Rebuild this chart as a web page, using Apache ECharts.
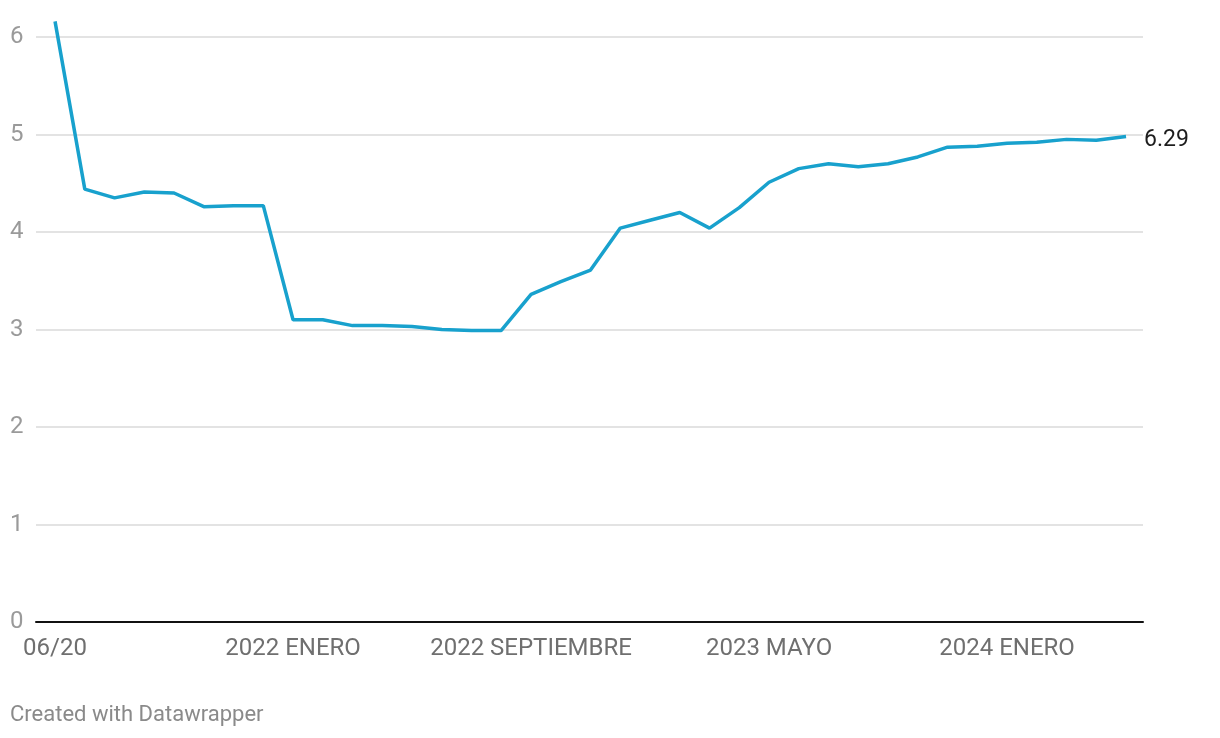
<!DOCTYPE html>
<html>
<head>
<meta charset="utf-8">
<script src="https://cdn.jsdelivr.net/npm/echarts@6/dist/echarts.min.js"></script>
<style>
  html, body { margin: 0; padding: 0; background: #fff; }
  #chart { width: 1220px; height: 738px; }
</style>
</head>
<body>
<div id="chart"></div>
<script>
  // categorias (meses)
  var categories = [
    '06/20',
    '2021 JUNIO', '2021 JULIO', '2021 AGOSTO', '2021 SEPTIEMBRE', '2021 OCTUBRE', '2021 NOVIEMBRE', '2021 DICIEMBRE',
    '2022 ENERO', '2022 FEBRERO', '2022 MARZO', '2022 ABRIL', '2022 MAYO', '2022 JUNIO', '2022 JULIO', '2022 AGOSTO',
    '2022 SEPTIEMBRE', '2022 OCTUBRE', '2022 NOVIEMBRE', '2022 DICIEMBRE', '2023 ENERO', '2023 FEBRERO', '2023 MARZO', '2023 ABRIL',
    '2023 MAYO', '2023 JUNIO', '2023 JULIO', '2023 AGOSTO', '2023 SEPTIEMBRE', '2023 OCTUBRE', '2023 NOVIEMBRE', '2023 DICIEMBRE',
    '2024 ENERO', '2024 FEBRERO', '2024 MARZO', '2024 ABRIL', '2024 MAYO'
  ];
  var values = [
    6.16,
    4.44, 4.35, 4.41, 4.40, 4.26, 4.27, 4.27,
    3.10, 3.10, 3.04, 3.04, 3.03, 3.00, 2.99, 2.99,
    3.36, 3.49, 3.61, 4.04, 4.12, 4.20, 4.04, 4.25,
    4.51, 4.65, 4.70, 4.67, 4.70, 4.77, 4.87, 4.88,
    4.91, 4.92, 4.95, 4.94, 4.98
  ];
  var xTickIndex = [0, 8, 16, 24, 32];
  var yTicks = [0, 1, 2, 3, 4, 5, 6];
  var endLabelText = '6.29';

  var points = [];
  for (var i = 0; i < values.length; i++) {
    points.push([i, values[i]]);
  }

  var chart = echarts.init(document.getElementById('chart'));
  var option = {
    animation: false,
    backgroundColor: '#fff',
    textStyle: { fontFamily: 'Roboto' },
    grid: { left: 36, right: 77, top: 37, bottom: 116, containLabel: false },
    xAxis: {
      type: 'value',
      min: -0.64,
      max: 36.57,
      axisLine: { show: true, onZero: false, lineStyle: { color: '#111', width: 2 } },
      axisTick: { show: false },
      splitLine: { show: false },
      axisLabel: {
        customValues: xTickIndex,
        color: '#6f6f6f',
        fontSize: 24,
        margin: 15,
        formatter: function (v) { return categories[Math.round(v)] || ''; }
      }
    },
    yAxis: {
      type: 'value',
      min: 0,
      max: 6,
      interval: 1,
      axisLine: { show: false },
      axisTick: { show: false },
      splitLine: { lineStyle: { color: '#e3e3e3', width: 2 } },
      axisLabel: {
        color: '#9a9a9a',
        fontSize: 24,
        align: 'left',
        margin: 26,
        padding: [7, 0, 0, 0],
        formatter: function (v) { return yTicks.indexOf(v) >= 0 ? String(v) : ''; }
      }
    },
    series: [{
      type: 'line',
      data: points,
      clip: false,
      symbol: 'none',
      lineStyle: { color: '#18a1cd', width: 3.5 },
      endLabel: {
        show: true,
        formatter: function () { return endLabelText; },
        color: '#1d1d1d',
        fontSize: 23,
        distance: 18,
        offset: [0, 4]
      }
    }],
    graphic: [{
      type: 'text',
      left: 10,
      top: 704,
      style: { text: 'Created with Datawrapper', fill: '#8a8a8a', fontSize: 22, fontFamily: 'Roboto' }
    }]
  };
  chart.setOption(option);
</script>
</body>
</html>
